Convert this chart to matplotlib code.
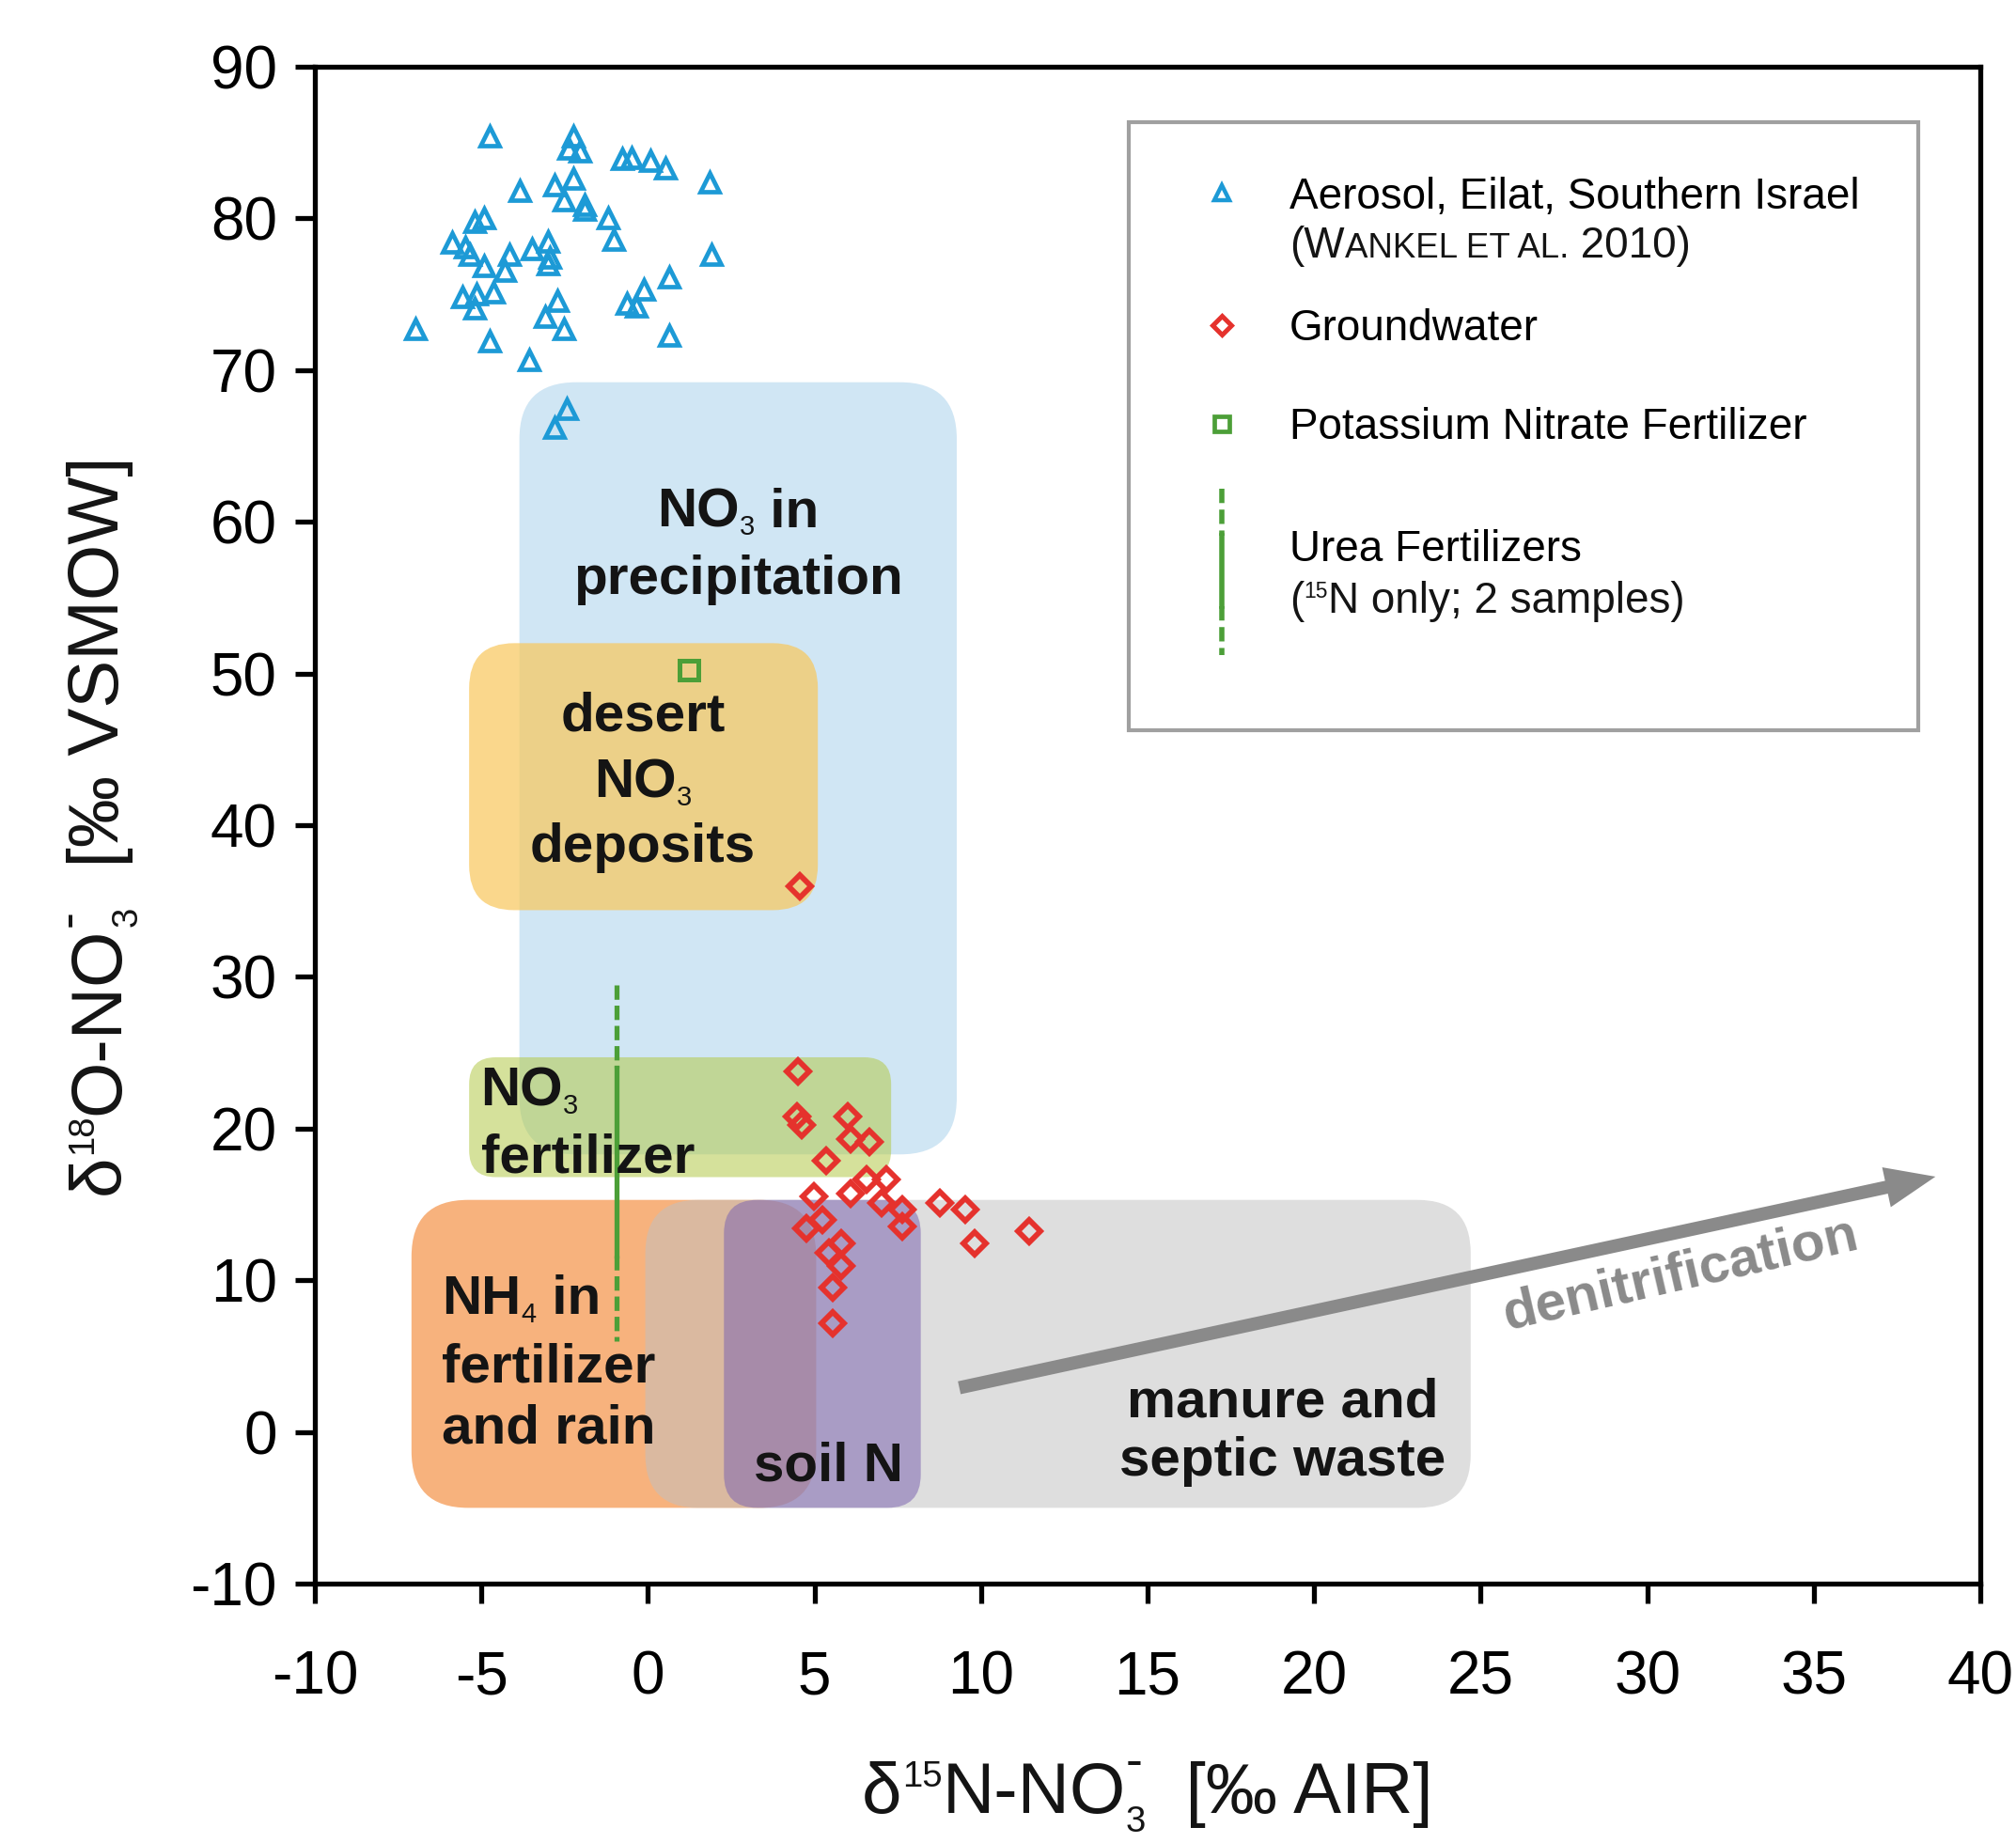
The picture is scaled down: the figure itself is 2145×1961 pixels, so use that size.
import numpy as np
import matplotlib
matplotlib.use("Agg")
import matplotlib.pyplot as plt
from matplotlib.patches import FancyBboxPatch, FancyArrowPatch, Rectangle

plt.rcParams['font.family'] = ['Liberation Sans', 'DejaVu Sans']
plt.rcParams['axes.unicode_minus'] = False
plt.rcParams['lines.scale_dashes'] = False

# ── data ──────────────────────────────────────────────────────
aerosol_d15n = [-4.74, -2.24, -2.38, -2.05, -0.78, -0.50, 0.06, 0.53, 1.85, -3.84,
                -2.81, -2.24, -2.53, -1.91, -1.90, -1.21, -1.02, 1.90, -5.21, -4.93,
                -5.87, -5.49, -5.35, -4.93, -4.17, -4.31, -3.47, -3.00, -2.95, -3.00,
                0.63, -0.13, -0.64, -0.36, -5.58, -5.16, -4.64, -5.21, -2.71, -3.09,
                -2.53, -6.99, -4.74, -3.56, 0.63, -2.43, -2.81]
aerosol_d18o = [85.4, 85.4, 84.6, 84.4, 83.9, 84.0, 83.8, 83.3, 82.4, 81.8,
                82.2, 82.6, 81.2, 80.9, 80.6, 80.05, 78.6, 77.6, 79.8, 80.05,
                78.4, 78.1, 77.6, 76.85, 77.6, 76.55, 78.0, 78.5, 77.4, 77.0,
                76.1, 75.3, 74.4, 74.2, 74.8, 75.0, 75.1, 74.1, 74.6, 73.5,
                72.7, 72.7, 71.9, 70.65, 72.3, 67.45, 66.2]

gw_d15n = [4.56, 4.51, 4.48, 4.62, 5.99, 6.08, 6.65, 5.36, 6.55, 7.16, 4.98, 6.08,
           7.02, 7.63, 8.76, 9.52, 11.45, 9.80, 7.63, 5.24, 4.77, 5.80, 5.42, 5.80,
           5.55, 5.55]
gw_d18o = [36.0, 23.77, 20.78, 20.26, 20.78, 19.33, 19.13, 17.9, 16.65, 16.65, 15.5,
           15.72, 15.1, 14.68, 15.1, 14.68, 13.24, 12.42, 13.55, 13.97, 13.45, 12.42,
           11.8, 10.97, 9.52, 7.15]

kno3_d15n = [1.24]
kno3_d18o = [50.2]

urea_d15n = -0.93
urea_solid = [24.0, 11.6]     # range covered by the two samples
urea_whisker = [29.5, 6.0]

# source fields (x0, x1, y0, y1)
region_names = ["precipitation", "desert", "no3_fert", "nh4", "manure", "soil"]
region_x0 = [-3.86, -5.37, -5.37, -7.10, -0.08, 2.28]
region_x1 = [9.27, 5.10, 7.30, 5.05, 24.70, 8.19]
region_y0 = [18.3, 34.4, 16.8, -5.0, -5.0, -5.0]
region_y1 = [69.2, 52.0, 24.7, 15.3, 15.3, 15.3]
region_round = [1.7, 1.35, 0.8, 1.7, 1.6, 1.0]
region_color = ["#d0e6f4", "#f9c75b", "#b4ca49", "#f7b27d", "#c1c1c1", "#7e66b1"]
region_alpha = [1.0, 0.7, 0.55, 1.0, 0.53, 0.55]

denit_start = (9.27, 2.88)
denit_end = (38.73, 16.87)

BLUE = "#1d9ad6"
RED = "#e5322d"
GREEN = "#4c9f38"
GREYTXT = "#8a8a8a"
DARK = "#141414"

# ── figure ────────────────────────────────────────────────────
fig = plt.figure(figsize=(21.45, 19.61), dpi=100)
ax = fig.add_axes([0.1562, 0.1407, 0.8261, 0.8231])
ax.set_xlim(-10, 40)
ax.set_ylim(-10, 90)
renderer = fig.canvas.get_renderer()


def rich(x, y, pieces, fs, transform, ha="left", rotation=0, weight="normal",
         color=DARK, zorder=4):
    """Text built from pieces (s, size factor, raise in em, advance?, weight)."""
    x0, y0 = transform.transform((x, y))
    th = np.radians(rotation)
    ux, uy, px, py = np.cos(th), np.sin(th), -np.sin(th), np.cos(th)
    em = fs * fig.dpi / 72
    made, pos, held = [], 0.0, 0.0
    for p in pieces:
        s, f, dy = p[0], p[1], p[2]
        adv = p[3] if len(p) > 3 else True
        wt = p[4] if len(p) > 4 else weight
        t = ax.text(0, 0, s, transform=None, fontsize=fs * f, fontweight=wt,
                    color=color, va="baseline", ha="left", rotation=rotation,
                    rotation_mode="anchor", zorder=zorder, clip_on=False)
        bb = t.get_window_extent(renderer)
        w = bb.width if rotation == 0 else bb.height
        made.append((t, pos, dy * em))
        if adv:
            pos += max(w, held)
            held = 0.0
        else:
            held = w
    shift = {"left": 0.0, "center": -pos / 2, "right": -pos}[ha]
    for t, a, d in made:
        a += shift
        t.set_position((x0 + a * ux + d * px, y0 + a * uy + d * py))


for x0, x1, y0, y1, r, c, a in zip(region_x0, region_x1, region_y0, region_y1,
                                    region_round, region_color, region_alpha):
    ax.add_patch(FancyBboxPatch((x0, y0), x1 - x0, y1 - y0,
                                boxstyle=f"round,pad=0,rounding_size={r}",
                                mutation_aspect=(0.8261 * 2145 / 50) / (0.8231 * 1961 / 100),
                                fc=c, ec="none", alpha=a, zorder=1))

# denitrification arrow
ax.add_patch(FancyArrowPatch(denit_start, denit_end,
                             arrowstyle="simple,head_length=1.6,head_width=1.3,tail_width=0.42",
                             mutation_scale=24, color=GREYTXT, lw=0, zorder=3))
ax.text(31.0, 10.34, "denitrification", rotation=13, ha="center", va="center",
        fontsize=42, fontweight="bold", color=GREYTXT, rotation_mode="anchor", zorder=3)

# region labels
SUB = 0.5
def lab(x, y, pieces, ha):
    rich(x, y, pieces, 42, ax.transData, ha=ha, weight="bold")

def no3(extra=""):
    p = [("NO", 1, 0), ("3", SUB, -0.15, True, "normal")]
    if extra:
        p.append((extra, 1, 0))
    return p

lab(2.70, 59.66, no3(" in"), "center")
lab(2.70, 55.25, [("precipitation", 1, 0)], "center")
lab(-0.15, 46.2, [("desert", 1, 0)], "center")
lab(-0.15, 41.86, no3(), "center")
lab(-0.15, 37.6, [("deposits", 1, 0)], "center")
lab(-5.02, 21.5, no3(), "left")
lab(-5.02, 17.1, [("fertilizer", 1, 0)], "left")
lab(-6.18, 7.8, [("NH", 1, 0), ("4", SUB, -0.15, True, "normal"), (" in", 1, 0)], "left")
lab(-6.18, 3.3, [("fertilizer", 1, 0)], "left")
lab(-6.18, -0.76, [("and rain", 1, 0)], "left")
lab(5.41, -3.2, [("soil N", 1, 0)], "center")
lab(19.05, 1.02, [("manure and", 1, 0)], "center")
lab(19.05, -2.9, [("septic waste", 1, 0)], "center")

# urea fertilizer range
ax.plot([urea_d15n, urea_d15n], [urea_whisker[0], urea_solid[0]], color=GREEN, lw=3.8,
        dashes=(11, 4.5), zorder=3)
ax.plot([urea_d15n, urea_d15n], urea_solid, color=GREEN, lw=3.8, zorder=3)
ax.plot([urea_d15n, urea_d15n], [urea_solid[1], urea_whisker[1]], color=GREEN, lw=3.8,
        dashes=(11, 4.5), zorder=3)

# samples
ax.plot(aerosol_d15n, aerosol_d18o, ls="none", marker="^", ms=15, mfc="none",
        mec=BLUE, mew=3.4, zorder=5)
ax.plot(gw_d15n, gw_d18o, ls="none", marker="D", ms=12.5, mfc="none",
        mec=RED, mew=4.2, zorder=5)
ax.plot(kno3_d15n, kno3_d18o, ls="none", marker="s", ms=14, mfc="none",
        mec=GREEN, mew=3.6, zorder=5)

# axes styling
for s in ax.spines.values():
    s.set_linewidth(3.8)
ax.set_xticks(np.arange(-10, 41, 5))
ax.set_yticks(np.arange(-10, 91, 10))
ax.tick_params(direction="out", length=15, width=3.8, labelsize=46)
ax.tick_params(axis="x", pad=36)
ax.tick_params(axis="y", pad=14)

# axis titles
def iso_label(mass, elem, unit):
    return [("δ", 1, 0), (mass, 0.5, 0.36), (elem + "-NO", 1, 0),
            ("3", 0.5, -0.26, False), ("-", 0.7, 0.5), ("  [‰ " + unit + "]", 1, 0)]

rich(0.5692, 0.0165, iso_label("15", "N", "AIR"), 55, fig.transFigure, ha="center")
rich(126 / 2145, 0.5523, iso_label("18", "O", "VSMOW"), 55, fig.transFigure,
     ha="center", rotation=90)

# ── legend (drawn by hand in axes fraction) ────────────────────
ax.add_patch(Rectangle((0.4887, 0.5626), 0.4741, 0.4008, transform=ax.transAxes,
                       fc="white", ec="#a0a0a0", lw=3, zorder=6))
mx, tx = 0.5446, 0.5852
lt = dict(transform=ax.transAxes, fontsize=33, va="baseline", ha="left", zorder=7)
ax.plot([mx], [0.917], transform=ax.transAxes, marker="^", ms=12, mfc="none",
        mec=BLUE, mew=3.2, zorder=7)
ax.text(tx, 0.9064, "Aerosol, Eilat, Southern Israel", **lt)
rich(tx, 0.8742, [("(W", 1, 0), ("ANKEL ET AL.", 0.8, 0), (" 2010)", 1, 0)], 33,
     ax.transAxes, zorder=7)
ax.plot([mx], [0.8296], transform=ax.transAxes, marker="D", ms=10, mfc="none",
        mec=RED, mew=3.6, zorder=7)
ax.text(tx, 0.8197, "Groundwater", **lt)
ax.plot([mx], [0.7646], transform=ax.transAxes, marker="s", ms=12, mfc="none",
        mec=GREEN, mew=3.4, zorder=7)
ax.text(tx, 0.7546, "Potassium Nitrate Fertilizer", **lt)
ax.plot([mx, mx], [0.7218, 0.691], transform=ax.transAxes, color=GREEN, lw=4,
        dashes=(11, 5), zorder=7)
ax.plot([mx, mx], [0.691, 0.6444], transform=ax.transAxes, color=GREEN, lw=4, zorder=7)
ax.plot([mx, mx], [0.6444, 0.6121], transform=ax.transAxes, color=GREEN, lw=4,
        dashes=(11, 5), zorder=7)
ax.text(tx, 0.6741, "Urea Fertilizers", **lt)
rich(tx, 0.6400, [("(", 1, 0), ("15", 0.5, 0.36), ("N only; 2 samples)", 1, 0)], 33,
     ax.transAxes, zorder=7)

fig.savefig("out.png", dpi=100)
